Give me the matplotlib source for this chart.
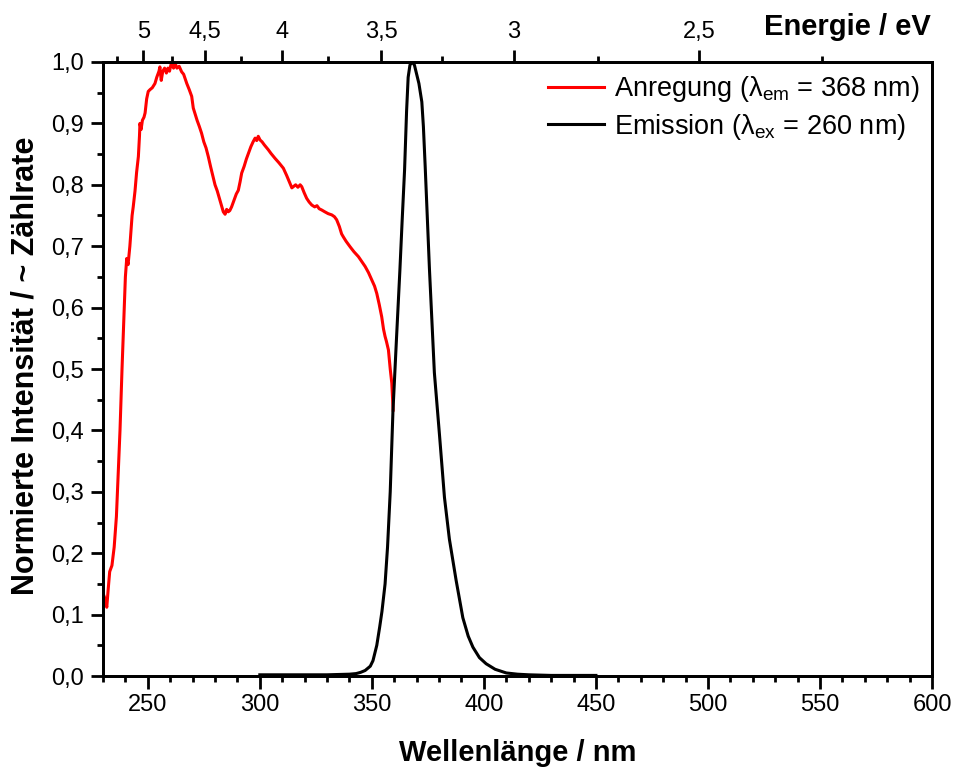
import numpy as np
import matplotlib
matplotlib.use("Agg")
import matplotlib.pyplot as plt
from matplotlib.ticker import MultipleLocator, FuncFormatter

plt.rcParams['font.family'] = ['Liberation Sans', 'DejaVu Sans']
plt.rcParams['mathtext.fontset'] = 'custom'
plt.rcParams['mathtext.rm'] = 'Liberation Sans'
plt.rcParams['mathtext.it'] = 'Liberation Sans:italic'

# Anregungsspektrum (lambda_em = 368 nm)
ex_nm = [230.0, 231.0, 231.7, 232.3, 233.0, 234.0, 235.0, 236.0, 237.0, 237.6,
         238.5, 239.5, 240.0, 240.6, 241.2, 242.0, 243.0, 243.5, 244.3, 245.0,
         245.8, 246.3, 246.5, 247.0, 247.6, 248.3, 248.8, 249.5, 250.2, 251.0,
         252.0, 253.2, 254.0, 255.0, 255.4, 256.0, 256.7, 257.5, 258.3, 259.0,
         259.7, 260.3, 260.7, 261.5, 262.3, 263.0, 264.0, 265.1, 266.0, 267.4,
         268.5, 269.6, 270.3, 271.0, 272.0, 273.0, 274.0, 275.0, 276.0, 277.0,
         278.0, 279.0, 280.0, 281.0, 282.2, 283.0, 283.7, 284.5, 285.2, 285.9,
         286.6, 287.4, 288.5, 289.5, 290.4, 291.2, 291.9, 293.0, 294.0, 294.9,
         296.0, 297.0, 297.9, 298.6, 299.3, 300.1, 301.0, 302.0, 303.8, 305.0,
         306.8, 308.5, 310.5, 312.0, 313.5, 314.3, 315.0, 316.0, 317.0, 318.0,
         318.7, 319.8, 320.9, 322.0, 323.2, 324.5, 325.5, 326.5, 327.6, 329.0,
         330.5, 332.1, 333.3, 334.3, 335.5, 336.5, 337.3, 338.5, 340.3, 342.0,
         344.0, 345.5, 347.0, 348.5, 350.0, 351.2, 352.2, 353.3, 354.4, 355.2,
         355.9, 356.5, 357.4, 358.2, 358.9, 359.5]
ex_val = [0.135, 0.125, 0.112, 0.14, 0.17, 0.18, 0.21, 0.26, 0.35, 0.40,
          0.50, 0.60, 0.65, 0.68, 0.67, 0.70, 0.75, 0.764, 0.79, 0.82,
          0.846, 0.88, 0.90, 0.89, 0.905, 0.91, 0.917, 0.94, 0.952, 0.955,
          0.958, 0.965, 0.975, 0.985, 0.992, 0.97, 0.985, 0.99, 0.982, 0.99,
          0.985, 0.995, 0.998, 0.99, 0.997, 0.99, 0.993, 0.984, 0.98, 0.965,
          0.955, 0.944, 0.925, 0.917, 0.905, 0.895, 0.884, 0.87, 0.86, 0.846,
          0.83, 0.815, 0.80, 0.79, 0.775, 0.765, 0.756, 0.752, 0.76, 0.756,
          0.758, 0.764, 0.775, 0.785, 0.791, 0.805, 0.819, 0.83, 0.842, 0.851,
          0.862, 0.87, 0.876, 0.872, 0.879, 0.873, 0.87, 0.865, 0.857, 0.851,
          0.843, 0.836, 0.827, 0.815, 0.802, 0.795, 0.797, 0.80, 0.796, 0.80,
          0.797, 0.787, 0.778, 0.772, 0.767, 0.764, 0.766, 0.761, 0.759, 0.756,
          0.753, 0.751, 0.748, 0.743, 0.732, 0.72, 0.715, 0.708, 0.699, 0.691,
          0.683, 0.675, 0.667, 0.657, 0.645, 0.635, 0.623, 0.605, 0.585, 0.565,
          0.553, 0.545, 0.531, 0.50, 0.477, 0.433]

# Emissionsspektrum (lambda_ex = 260 nm)
em_nm = [300, 310, 320, 330, 340, 343, 345, 347, 349.3, 350.5,
         352.2, 353.5, 354.5, 355.9, 357.0, 358.2, 359.4, 361.0, 362.5, 363.5,
         364.6, 365.5, 366.2, 367.0, 368.0, 369.0, 369.8, 371.0, 372.3, 373.0,
         373.8, 374.6, 375.7, 377.9, 380.2, 382.4, 384.6, 387.6, 390.6, 393.0,
         395.1, 398.0, 401.0, 405.0, 410.0, 415.0, 420.0, 430.0, 440.0, 450.0]
em_val = [0.002, 0.002, 0.002, 0.002, 0.003, 0.004, 0.006, 0.009, 0.016, 0.025,
          0.05, 0.08, 0.105, 0.15, 0.21, 0.30, 0.43, 0.55, 0.66, 0.74,
          0.824, 0.92, 0.975, 0.995, 1.0, 0.995, 0.983, 0.965, 0.935, 0.895,
          0.83, 0.76, 0.663, 0.494, 0.392, 0.291, 0.223, 0.156, 0.095, 0.065,
          0.047, 0.03, 0.02, 0.011, 0.005, 0.003, 0.002, 0.001, 0.001, 0.001]

ev_major = [5, 4.5, 4, 3.5, 3, 2.5]
ev_minor = [5.25, 4.75, 4.25, 3.75, 3.25, 2.75, 2.25]

fig = plt.figure(figsize=(9.57, 7.69), dpi=100)
ax = fig.add_axes([0.1076, 0.1209, 0.8663, 0.7985])

ax.plot(ex_nm, ex_val, color='#ff0000', lw=2.2,
        label='Anregung (λ$_{\\mathrm{em}}$ = 368 nm)')
ax.plot(em_nm, em_val, color='black', lw=2.2,
        label='Emission (λ$_{\\mathrm{ex}}$ = 260 nm)')

ax.set_xlim(230, 600)
ax.set_ylim(0, 1.0)
ax.xaxis.set_major_locator(MultipleLocator(50))
ax.xaxis.set_minor_locator(MultipleLocator(10))
ax.yaxis.set_major_locator(MultipleLocator(0.1))
ax.yaxis.set_minor_locator(MultipleLocator(0.05))
ax.yaxis.set_major_formatter(FuncFormatter(lambda v, p: f'{v:.1f}'.replace('.', ',')))

for s in ax.spines.values():
    s.set_linewidth(2.0)
ax.tick_params(which='both', direction='out', width=2.0, labelsize=17, top=False, right=False)
ax.tick_params(which='major', length=9)
ax.tick_params(which='minor', length=4)
ax.tick_params(axis='x', which='major', pad=4)
ax.tick_params(axis='y', which='major', pad=5)

ax.set_xlabel('Wellenlänge / nm', fontsize=21, fontweight='bold', va='center')
ax.xaxis.set_label_coords(0.5, -0.1254)
ax.set_ylabel('Normierte Intensität / ~ Zählrate', fontsize=22, fontweight='bold', va='center')
ax.yaxis.set_label_coords(-0.094, 0.505)

# Energieachse oben
ax2 = ax.twiny()
ax2.set_xlim(ax.get_xlim())
ax2.set_xticks([1239.84 / e for e in ev_major])
ax2.set_xticklabels([f'{e:g}'.replace('.', ',') for e in ev_major])
ax2.set_xticks([1239.84 / e for e in ev_minor], minor=True)
ax2.tick_params(which='both', direction='out', width=2.0, labelsize=17)
ax2.tick_params(which='major', length=9, pad=5)
ax2.tick_params(which='minor', length=4)
for s in ax2.spines.values():
    s.set_linewidth(2.0)
fig.text(0.9725, 1 - 27 / 769, 'Energie / eV', ha='right', va='center',
         fontsize=21, fontweight='bold')

leg = ax.legend(loc='upper right', frameon=False, fontsize=19.5,
                handlelength=2.1, handletextpad=0.35, borderaxespad=0.2,
                labelspacing=0.28, borderpad=0.25)

fig.savefig('out.png', dpi=100)
